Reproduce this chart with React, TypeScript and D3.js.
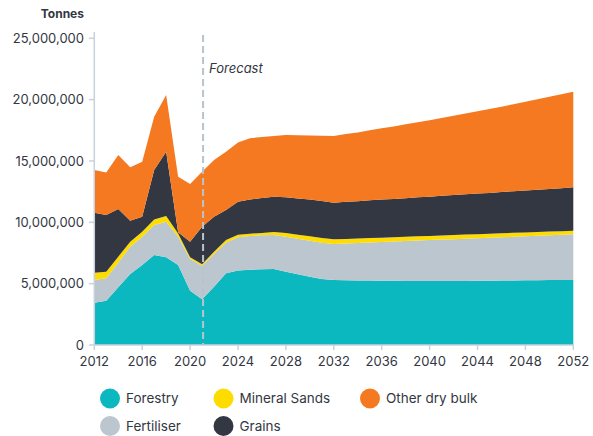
import React from "react";
import * as d3 from "d3";

const years = d3.range(2012, 2053);

const forestry = [3.45, 3.61, 4.70, 5.79, 6.52, 7.33, 7.15, 6.52, 4.43, 3.72, 4.75, 5.84, 6.08,
  6.14, 6.17, 6.19, 5.97, 5.76, 5.57, 5.38, 5.30,
  5.28, 5.26, 5.25, 5.24, 5.23, 5.22, 5.22, 5.21, 5.21, 5.22, 5.22, 5.23, 5.24, 5.25, 5.26, 5.27, 5.28, 5.29, 5.30, 5.30];
const fertiliser = [1.85, 1.83, 2.01, 2.22, 2.31, 2.45, 2.90, 2.31, 2.58, 2.74, 2.67, 2.50, 2.70,
  2.74, 2.77, 2.77, 2.86, 2.90, 2.93, 2.96, 2.93,
  2.99, 3.05, 3.10, 3.15, 3.20, 3.25, 3.29, 3.34, 3.38, 3.41, 3.45, 3.47, 3.50, 3.53, 3.56, 3.59, 3.62, 3.65, 3.68, 3.72];
const mineralSands = [0.59, 0.53, 0.49, 0.41, 0.40, 0.46, 0.46, 0.25, 0.14, 0.12, 0.18, 0.22, 0.20,
  0.19, 0.19, 0.25, 0.30, 0.33, 0.36, 0.38, 0.38,
  0.38, 0.37, 0.37, 0.36, 0.36, 0.35, 0.35, 0.34, 0.34, 0.33, 0.33, 0.33, 0.32, 0.32, 0.32, 0.31, 0.31, 0.31, 0.30, 0.30];
const grains = [4.89, 4.62, 3.88, 1.71, 1.23, 4.02, 5.24, 0.12, 1.27, 3.06, 2.86, 2.44, 2.70,
  2.80, 2.85, 2.88, 2.91, 2.96, 3.01, 3.02, 2.99,
  3.02, 3.04, 3.07, 3.10, 3.12, 3.15, 3.18, 3.20, 3.23, 3.26, 3.29, 3.31, 3.34, 3.37, 3.39, 3.42, 3.45, 3.47, 3.50, 3.53];
const otherDryBulk = [3.48, 3.48, 4.40, 4.35, 4.48, 4.34, 4.62, 4.52, 4.70, 4.48, 4.62, 4.75, 4.82,
  4.98, 4.97, 4.94, 5.07, 5.15, 5.21, 5.31, 5.43,
  5.52, 5.61, 5.71, 5.81, 5.91, 6.02, 6.12, 6.23, 6.35, 6.47, 6.59, 6.71, 6.83, 6.96, 7.10, 7.23, 7.37, 7.51, 7.65, 7.80];

const seriesKeys = ["Forestry", "Fertiliser", "Mineral Sands", "Grains", "Other dry bulk"];
const seriesValues = [forestry, fertiliser, mineralSands, grains, otherDryBulk];
const seriesColors = ["#0bb8c0", "#bcc6cf", "#ffdc00", "#333742", "#f47920"];

const yTicks = [0, 5000000, 10000000, 15000000, 20000000, 25000000];
const xTicks = [2012, 2016, 2020, 2024, 2028, 2032, 2036, 2040, 2044, 2048, 2052];
const forecastYear = 2021;

const legendItems = [
  { key: "Forestry", col: 0, row: 0 },
  { key: "Mineral Sands", col: 1, row: 0 },
  { key: "Other dry bulk", col: 2, row: 0 },
  { key: "Fertiliser", col: 0, row: 1 },
  { key: "Grains", col: 1, row: 1 },
];

const FONT = "Inter, 'Noto Sans', sans-serif";
const TEXT = "#333742";
const AXIS = "#c8d2dc";

export default function App() {
  const x = d3.scaleLinear().domain([2012, 2052]).range([94.3, 573.3]);
  const y = d3.scaleLinear().domain([0, 25000000]).range([345, 38.3]);

  const table = years.map((yr, i) => {
    const row: any = { year: yr };
    seriesKeys.forEach((k, j) => (row[k] = seriesValues[j][i] * 1e6));
    return row;
  });
  const stacked = d3.stack().keys(seriesKeys)(table);
  const area = d3
    .area<any>()
    .x((d) => x(d.data.year))
    .y0((d) => y(d[0]))
    .y1((d) => y(d[1]))
    .curve(d3.curveLinear);

  const fmt = d3.format(",");
  const legendX = [110, 223.5, 370];
  const legendY = [398.5, 426];

  return (
    <svg
      width={593}
      height={436}
      style={{ position: "absolute", left: 0, top: 0, background: "#fff" }}
      fontFamily={FONT}
    >
      {stacked.map((s, i) => (
        <path key={s.key} d={area(s) || ""} fill={seriesColors[i]} />
      ))}

      {/* y axis */}
      <line x1={94.3} x2={94.3} y1={32} y2={345} stroke={AXIS} strokeWidth={1.5} />
      {yTicks.map((t) => (
        <g key={t}>
          <line x1={89} x2={94.3} y1={y(t)} y2={y(t)} stroke={AXIS} strokeWidth={1.5} />
          <text x={84} y={y(t)} dy="0.35em" textAnchor="end" fontSize={13} fill={TEXT}>
            {fmt(t)}
          </text>
        </g>
      ))}
      <text x={84} y={18} textAnchor="end" fontSize={12} fontWeight={700} fill={TEXT}>
        Tonnes
      </text>

      {/* x axis */}
      <line x1={94.3} x2={574} y1={345} y2={345} stroke={AXIS} strokeWidth={1.5} />
      {xTicks.map((t) => (
        <g key={t}>
          <line x1={x(t)} x2={x(t)} y1={345} y2={350} stroke={AXIS} strokeWidth={1.5} />
          <text x={x(t)} y={365.5} textAnchor="middle" fontSize={13} fill={TEXT}>
            {t}
          </text>
        </g>
      ))}

      {/* forecast */}
      <line
        x1={x(forecastYear) + 1}
        x2={x(forecastYear) + 1}
        y1={35}
        y2={345}
        stroke="#b9c3cc"
        strokeWidth={2}
        strokeDasharray="7,4"
      />
      <text x={x(forecastYear) + 7} y={73} fontSize={13} fontStyle="italic" fill={TEXT}>
        Forecast
      </text>

      {/* legend */}
      {legendItems.map((it) => {
        const idx = seriesKeys.indexOf(it.key);
        const cx = legendX[it.col];
        const cy = legendY[it.row];
        return (
          <g key={it.key}>
            <circle cx={cx} cy={cy} r={10} fill={seriesColors[idx]} />
            <text x={cx + 16} y={cy} dy="0.35em" fontSize={13.5} fill={TEXT}>
              {it.key}
            </text>
          </g>
        );
      })}
    </svg>
  );
}
